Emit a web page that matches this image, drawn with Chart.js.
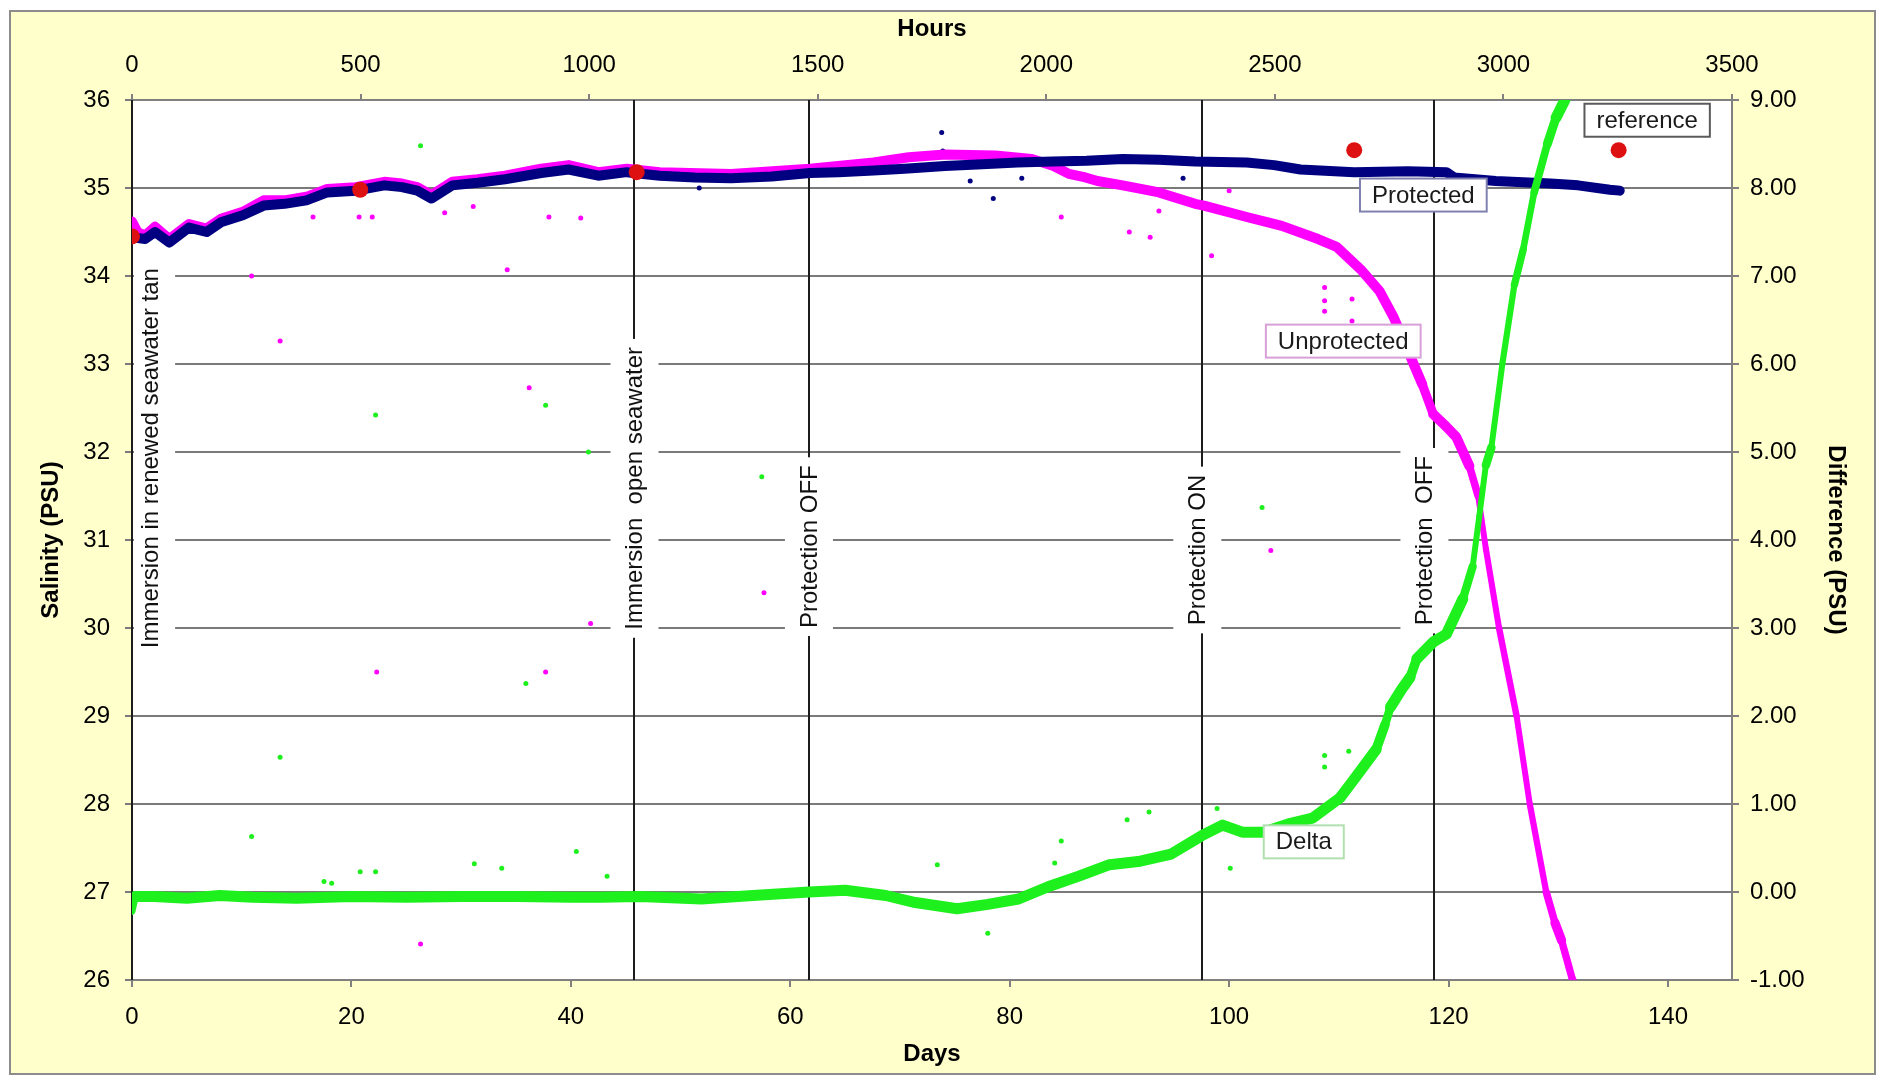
<!DOCTYPE html>
<html>
<head>
<meta charset="utf-8">
<title>Salinity - protected vs unprotected</title>
<script src="https://cdn.jsdelivr.net/npm/chart.js@4.4.0/dist/chart.umd.min.js"></script>
<style>
  html, body { margin: 0; padding: 0; background: #fff; }
  #frame {
    position: absolute; left: 9px; top: 10px; width: 1867px; height: 1065px;
    box-sizing: border-box; border: 2px solid #8c8c8c; background: #ffffcc;
  }
  canvas { display: block; }
</style>
</head>
<body>
<div id="frame"><canvas id="chart" width="1863" height="1061"></canvas></div>
<script>
// salinity series, x in days (hours axis on top is the same scale * 24)
const protectedDays = [0, 1.2, 2.1, 3.4, 5.2, 6.8, 8.1, 10.1, 12.0, 13.9, 15.9, 17.8, 20.4, 23.0, 24.6, 26.0, 27.3, 29.2, 31.5, 34.0,
  37.3, 39.8, 42.5, 45.1, 48.1, 51.3, 54.6, 58.3, 61.8, 64.4, 67.6, 70.4, 74.1, 77.5, 80.7, 83.9, 87.0, 90.3, 93.6, 96.9,
  101.6, 104.1, 106.5, 111.4, 116.3, 119.8, 120.5, 124.3, 129.3, 131.8, 134.7, 135.6];
const protectedPsu = [34.44, 34.42, 34.50, 34.38, 34.55, 34.50, 34.61, 34.69, 34.80, 34.82, 34.86, 34.95, 34.97, 35.03, 35.01, 34.97, 34.88, 35.03, 35.06, 35.10,
  35.17, 35.21, 35.14, 35.18, 35.14, 35.12, 35.11, 35.13, 35.17, 35.18, 35.20, 35.22, 35.25, 35.27, 35.29, 35.30, 35.31, 35.33, 35.32, 35.30,
  35.29, 35.26, 35.21, 35.18, 35.19, 35.18, 35.12, 35.08, 35.05, 35.03, 34.98, 34.97];

const unprotectedDays = [0, 0.5, 1.2, 2.1, 3.4, 5.2, 6.8, 8.1, 10.1, 12.0, 13.9, 15.9, 17.8, 20.4, 23.0, 24.6, 26.0, 27.3, 29.2, 31.5,
  34.0, 37.3, 39.8, 42.5, 45.1, 48.1, 54.6, 61.8, 67.6, 70.8, 74.1, 78.7, 82.0, 84.0, 85.4, 86.9, 88.0, 90.3, 93.6, 96.9,
  97.7, 101.6, 104.8, 108.1, 109.8, 112.1, 113.7, 115.0, 116.3, 117.6, 118.6, 119.7, 120.7, 121.9, 122.7, 123.4, 124.6, 126.2, 127.4, 128.9,
  129.7, 130.3, 131.3, 131.8];
const unprotectedPsu = [34.62, 34.50, 34.46, 34.56, 34.42, 34.59, 34.54, 34.65, 34.73, 34.86, 34.86, 34.90, 34.99, 35.01, 35.07, 35.05, 35.01, 34.92, 35.07, 35.10,
  35.14, 35.22, 35.26, 35.18, 35.22, 35.18, 35.16, 35.22, 35.29, 35.35, 35.38, 35.37, 35.33, 35.25, 35.16, 35.12, 35.08, 35.03, 34.95, 34.82,
  34.80, 34.67, 34.57, 34.42, 34.33, 34.06, 33.83, 33.53, 33.15, 32.77, 32.43, 32.30, 32.17, 31.84, 31.50, 30.90, 30.00, 29.00, 28.00, 27.00,
  26.65, 26.45, 26.00, 25.80];

// difference, right axis
const deltaDays = [0, 0.3, 2, 5, 8, 11, 15, 20, 25, 30, 35, 40, 42.7, 46.3, 51.9, 56.6, 61.7, 65.0, 68.7, 71.4,
  75.2, 78.0, 80.8, 83.5, 86.3, 89.1, 91.9, 94.7, 97.5, 99.4, 101.2, 103.1, 105.6, 107.6, 110.1, 111.2, 112.1, 113.4, 114.2, 114.7,
  115.7, 116.5, 117.1, 118.6, 119.8, 121.3, 122.2, 122.8, 123.4, 123.9, 124.9, 126.0, 126.8, 127.8, 129.0, 129.8, 130.6];
const deltaPsu = [-0.22, -0.05, -0.05, -0.07, -0.04, -0.06, -0.07, -0.05, -0.06, -0.05, -0.05, -0.06, -0.06, -0.05, -0.08, -0.04, 0.00, 0.02, -0.04, -0.12,
  -0.19, -0.14, -0.08, 0.06, 0.18, 0.31, 0.35, 0.43, 0.64, 0.76, 0.68, 0.68, 0.78, 0.84, 1.07, 1.25, 1.40, 1.62, 1.90, 2.10,
  2.30, 2.44, 2.65, 2.84, 2.93, 3.33, 3.70, 4.27, 4.85, 5.05, 6.00, 6.90, 7.30, 7.95, 8.50, 8.80, 9.00];

const referenceDays = [0, 20.8, 46.0, 111.4, 135.5];
const referencePsu = [34.45, 34.98, 35.18, 35.43, 35.43];

// stray readings [day, value]
const strayUnprotected = [[13.5, 33.26], [36.2, 32.73], [37.7, 29.5], [57.6, 30.4], [26.3, 26.41], [22.3, 29.5], [41.8, 30.05], [103.8, 30.88],
  [34.2, 34.07], [40.9, 34.66], [10.9, 34.0], [16.5, 34.67], [20.7, 34.67], [21.9, 34.67], [28.5, 34.72], [31.1, 34.79], [38.0, 34.67],
  [84.7, 34.67], [90.9, 34.5], [92.8, 34.44], [98.4, 34.23], [108.7, 33.87], [108.7, 33.72], [108.7, 33.6], [111.2, 33.74], [111.2, 33.49],
  [100.0, 34.97], [93.6, 34.74]];
const strayDelta = [[13.5, 1.53], [22.2, 5.42], [26.3, 8.48], [41.6, 5.0], [37.7, 5.53], [10.9, 0.63], [35.9, 2.37], [57.4, 4.72], [103.0, 4.37],
  [40.5, 0.46], [31.2, 0.32], [20.8, 0.23], [22.2, 0.23], [17.5, 0.12], [18.2, 0.10], [33.7, 0.27], [43.3, 0.18], [73.4, 0.31], [78.0, -0.47],
  [84.7, 0.58], [84.1, 0.33], [90.7, 0.82], [92.7, 0.91], [100.1, 0.27], [108.7, 1.55], [108.7, 1.42], [110.9, 1.6], [98.9, 0.95], [106.0, 0.55]];
const strayProtected = [[73.8, 35.63], [73.9, 35.42], [76.4, 35.08], [78.5, 34.88], [81.1, 35.11], [95.8, 35.11], [51.7, 35.0]];

// events
const eventDays = [0, 45.8, 61.7, 97.5, 118.7];
const eventLabels = ['Immersion in renewed seawater tan', 'Immersion  open seawater', 'Protection OFF', 'Protection ON', 'Protection  OFF'];

// axis ticks
const dayTicks = [0, 20, 40, 60, 80, 100, 120, 140];
const hourTicks = [0, 500, 1000, 1500, 2000, 2500, 3000, 3500];
const hoursMax = 3500;
const daysMax = hoursMax / 24;

// where the notes sit (in data units)
const eventNotePos = [
  {day: 1.65, from: 29.77, box: [-17, 25]},
  {day: 45.8, from: 29.98, box: [-24, 24]},
  {day: 61.7, from: 30.0, box: [-24, 24]},
  {day: 97.1, from: 30.03, box: [-24, 24]},
  {day: 117.8, from: 30.03, box: [-24, 24]}
];
const seriesNotes = [
  {text: 'reference', day: 138.1, psu: 35.77, border: '#5a5a5a'},
  {text: 'Protected', day: 117.7, psu: 34.92, border: '#8080b0'},
  {text: 'Unprotected', day: 110.4, psu: 33.26, border: '#d8a0d8'},
  {text: 'Delta', day: 106.8, psu: 27.57, border: '#b0e0b0'}
];

const FONT = "'Liberation Sans', Arial, sans-serif";
Chart.defaults.font.family = FONT;
Chart.defaults.font.size = 24;
Chart.defaults.color = '#000';

const pts = (xs, ys) => xs.map((x, i) => ({x, y: ys[i]}));
const pairs = arr => arr.map(p => ({x: p[0], y: p[1]}));

// the band gets thinner where it runs steeply
const bandWidth = (thick, thin) => ctx => {
  const dx = Math.abs(ctx.p1.x - ctx.p0.x) || 0.01, dy = Math.abs(ctx.p1.y - ctx.p0.y);
  const r = dy / dx;
  return thin + (thick - thin) / (1 + Math.max(0, r - 2.5));
};

const notes = {
  id: 'notes',
  beforeDraw(chart) {
    const {ctx, chartArea: a} = chart;
    ctx.save();
    ctx.fillStyle = '#fff';
    ctx.fillRect(a.left, a.top, a.right - a.left, a.bottom - a.top);
    ctx.restore();
  },
  beforeDatasetsDraw(chart) {
    const {ctx, chartArea: a, scales: {x, y}} = chart;
    ctx.save();
    ctx.strokeStyle = '#1c1c1c';
    ctx.lineWidth = 2;
    eventDays.forEach(d => {
      const px = Math.round(x.getPixelForValue(d));
      ctx.beginPath(); ctx.moveTo(px, a.top); ctx.lineTo(px, a.bottom); ctx.stroke();
    });
    ctx.beginPath();
    ctx.rect(a.left + 2, a.top + 2, a.right - a.left - 4, a.bottom - a.top - 4);
    ctx.clip();
    ctx.font = '24px ' + FONT;
    eventLabels.forEach((t, i) => {
      const n = eventNotePos[i];
      const px = x.getPixelForValue(n.day), py = y.getPixelForValue(n.from);
      const w = ctx.measureText(t).width;
      ctx.save();
      ctx.translate(px, py);
      ctx.rotate(-Math.PI / 2);
      ctx.fillStyle = '#fff';
      ctx.fillRect(-8, n.box[0], w + 16, n.box[1] - n.box[0]);
      ctx.fillStyle = '#111';
      ctx.textBaseline = 'middle';
      ctx.fillText(t, 0, 1);
      ctx.restore();
    });
    ctx.restore();
  },
  afterDatasetsDraw(chart) {
    const {ctx, scales: {x, y}} = chart;
    ctx.save();
    ctx.font = '24px ' + FONT;
    ctx.textAlign = 'center';
    ctx.textBaseline = 'middle';
    seriesNotes.forEach(n => {
      const px = x.getPixelForValue(n.day), py = y.getPixelForValue(n.psu);
      const w = ctx.measureText(n.text).width + 24, h = 33;
      ctx.fillStyle = '#fff';
      ctx.fillRect(px - w / 2, py - h / 2, w, h);
      ctx.strokeStyle = n.border;
      ctx.lineWidth = 2;
      ctx.strokeRect(px - w / 2, py - h / 2, w, h);
      ctx.fillStyle = '#1a1a1a';
      ctx.fillText(n.text, px, py + 1);
    });
    ctx.restore();
  }
};

const axisGrey = '#808080';

new Chart(document.getElementById('chart'), {
  type: 'scatter',
  data: {
    datasets: [
      {
        label: 'reference', data: pts(referenceDays, referencePsu), yAxisID: 'y',
        pointRadius: 8, pointBackgroundColor: '#dd1111', pointBorderWidth: 0, order: 0
      },
      {
        label: 'Delta', data: pts(deltaDays, deltaPsu), yAxisID: 'y2', showLine: true,
        borderColor: '#1ef01e', borderWidth: 11, pointRadius: 0, clip: 0,
        borderCapStyle: 'round', borderJoinStyle: 'round',
        segment: {borderWidth: bandWidth(11, 5)}, order: 1
      },
      {
        label: 'Protected', data: pts(protectedDays, protectedPsu), yAxisID: 'y', showLine: true,
        borderColor: '#000080', borderWidth: 10, pointRadius: 0, clip: 0,
        borderCapStyle: 'round', borderJoinStyle: 'round', order: 2
      },
      {
        label: 'Unprotected', data: pts(unprotectedDays, unprotectedPsu), yAxisID: 'y', showLine: true,
        borderColor: '#ff00ff', borderWidth: 10, pointRadius: 0, clip: 0,
        borderCapStyle: 'round', borderJoinStyle: 'round',
        segment: {borderWidth: bandWidth(10, 5)}, order: 3
      },
      {
        label: 'stray protected', data: pairs(strayProtected), yAxisID: 'y',
        pointRadius: 2.5, pointBackgroundColor: '#000080', pointBorderWidth: 0, order: 4
      },
      {
        label: 'stray unprotected', data: pairs(strayUnprotected), yAxisID: 'y',
        pointRadius: 2.5, pointBackgroundColor: '#ff00ff', pointBorderWidth: 0, order: 5
      },
      {
        label: 'stray delta', data: pairs(strayDelta), yAxisID: 'y2',
        pointRadius: 2.5, pointBackgroundColor: '#1ef01e', pointBorderWidth: 0, order: 6
      }
    ]
  },
  options: {
    responsive: false,
    animation: false,
    layout: {padding: 0},
    plugins: {legend: {display: false}, tooltip: {enabled: false}},
    scales: {
      x: {
        type: 'linear', position: 'bottom', min: 0, max: daysMax,
        afterFit: s => { s.height = 93; },
        afterBuildTicks: s => { s.ticks = dayTicks.map(v => ({value: v})); },
        ticks: {padding: 16, maxRotation: 0, autoSkip: false, callback: v => v},
        grid: {drawOnChartArea: false, tickLength: 7, color: axisGrey, lineWidth: 2},
        border: {color: axisGrey, width: 2},
        title: {display: true, text: 'Days', font: {weight: 'bold', size: 24}, padding: {top: 0, bottom: 4}}
      },
      x2: {
        type: 'linear', position: 'top', min: 0, max: hoursMax,
        afterFit: s => { s.height = 88; },
        afterBuildTicks: s => { s.ticks = hourTicks.map(v => ({value: v})); },
        ticks: {padding: 14, maxRotation: 0, autoSkip: false, callback: v => v},
        grid: {drawOnChartArea: false, tickLength: 6, color: axisGrey, lineWidth: 2},
        border: {color: axisGrey, width: 2},
        title: {display: true, text: 'Hours', font: {weight: 'bold', size: 24}, padding: {top: 3, bottom: 0}}
      },
      y: {
        type: 'linear', position: 'left', min: 26, max: 36,
        afterFit: s => { s.width = 121; },
        ticks: {stepSize: 1, padding: 15, callback: v => v},
        grid: {color: '#7a7a7a', lineWidth: 2, tickLength: 7},
        border: {color: axisGrey, width: 2},
        title: {display: true, text: 'Salinity (PSU)', font: {weight: 'bold', size: 24}, padding: {top: 26, bottom: 0}}
      },
      y2: {
        type: 'linear', position: 'right', min: -1, max: 9,
        afterFit: s => { s.width = 142; },
        ticks: {stepSize: 1, padding: 11, callback: v => v.toFixed(2)},
        grid: {drawOnChartArea: false, tickLength: 7, color: axisGrey, lineWidth: 2},
        border: {color: axisGrey, width: 2},
        title: {display: true, text: 'Difference (PSU)', font: {weight: 'bold', size: 24}, padding: {top: 24, bottom: 0}}
      }
    }
  },
  plugins: [notes]
});
</script>
</body>
</html>
